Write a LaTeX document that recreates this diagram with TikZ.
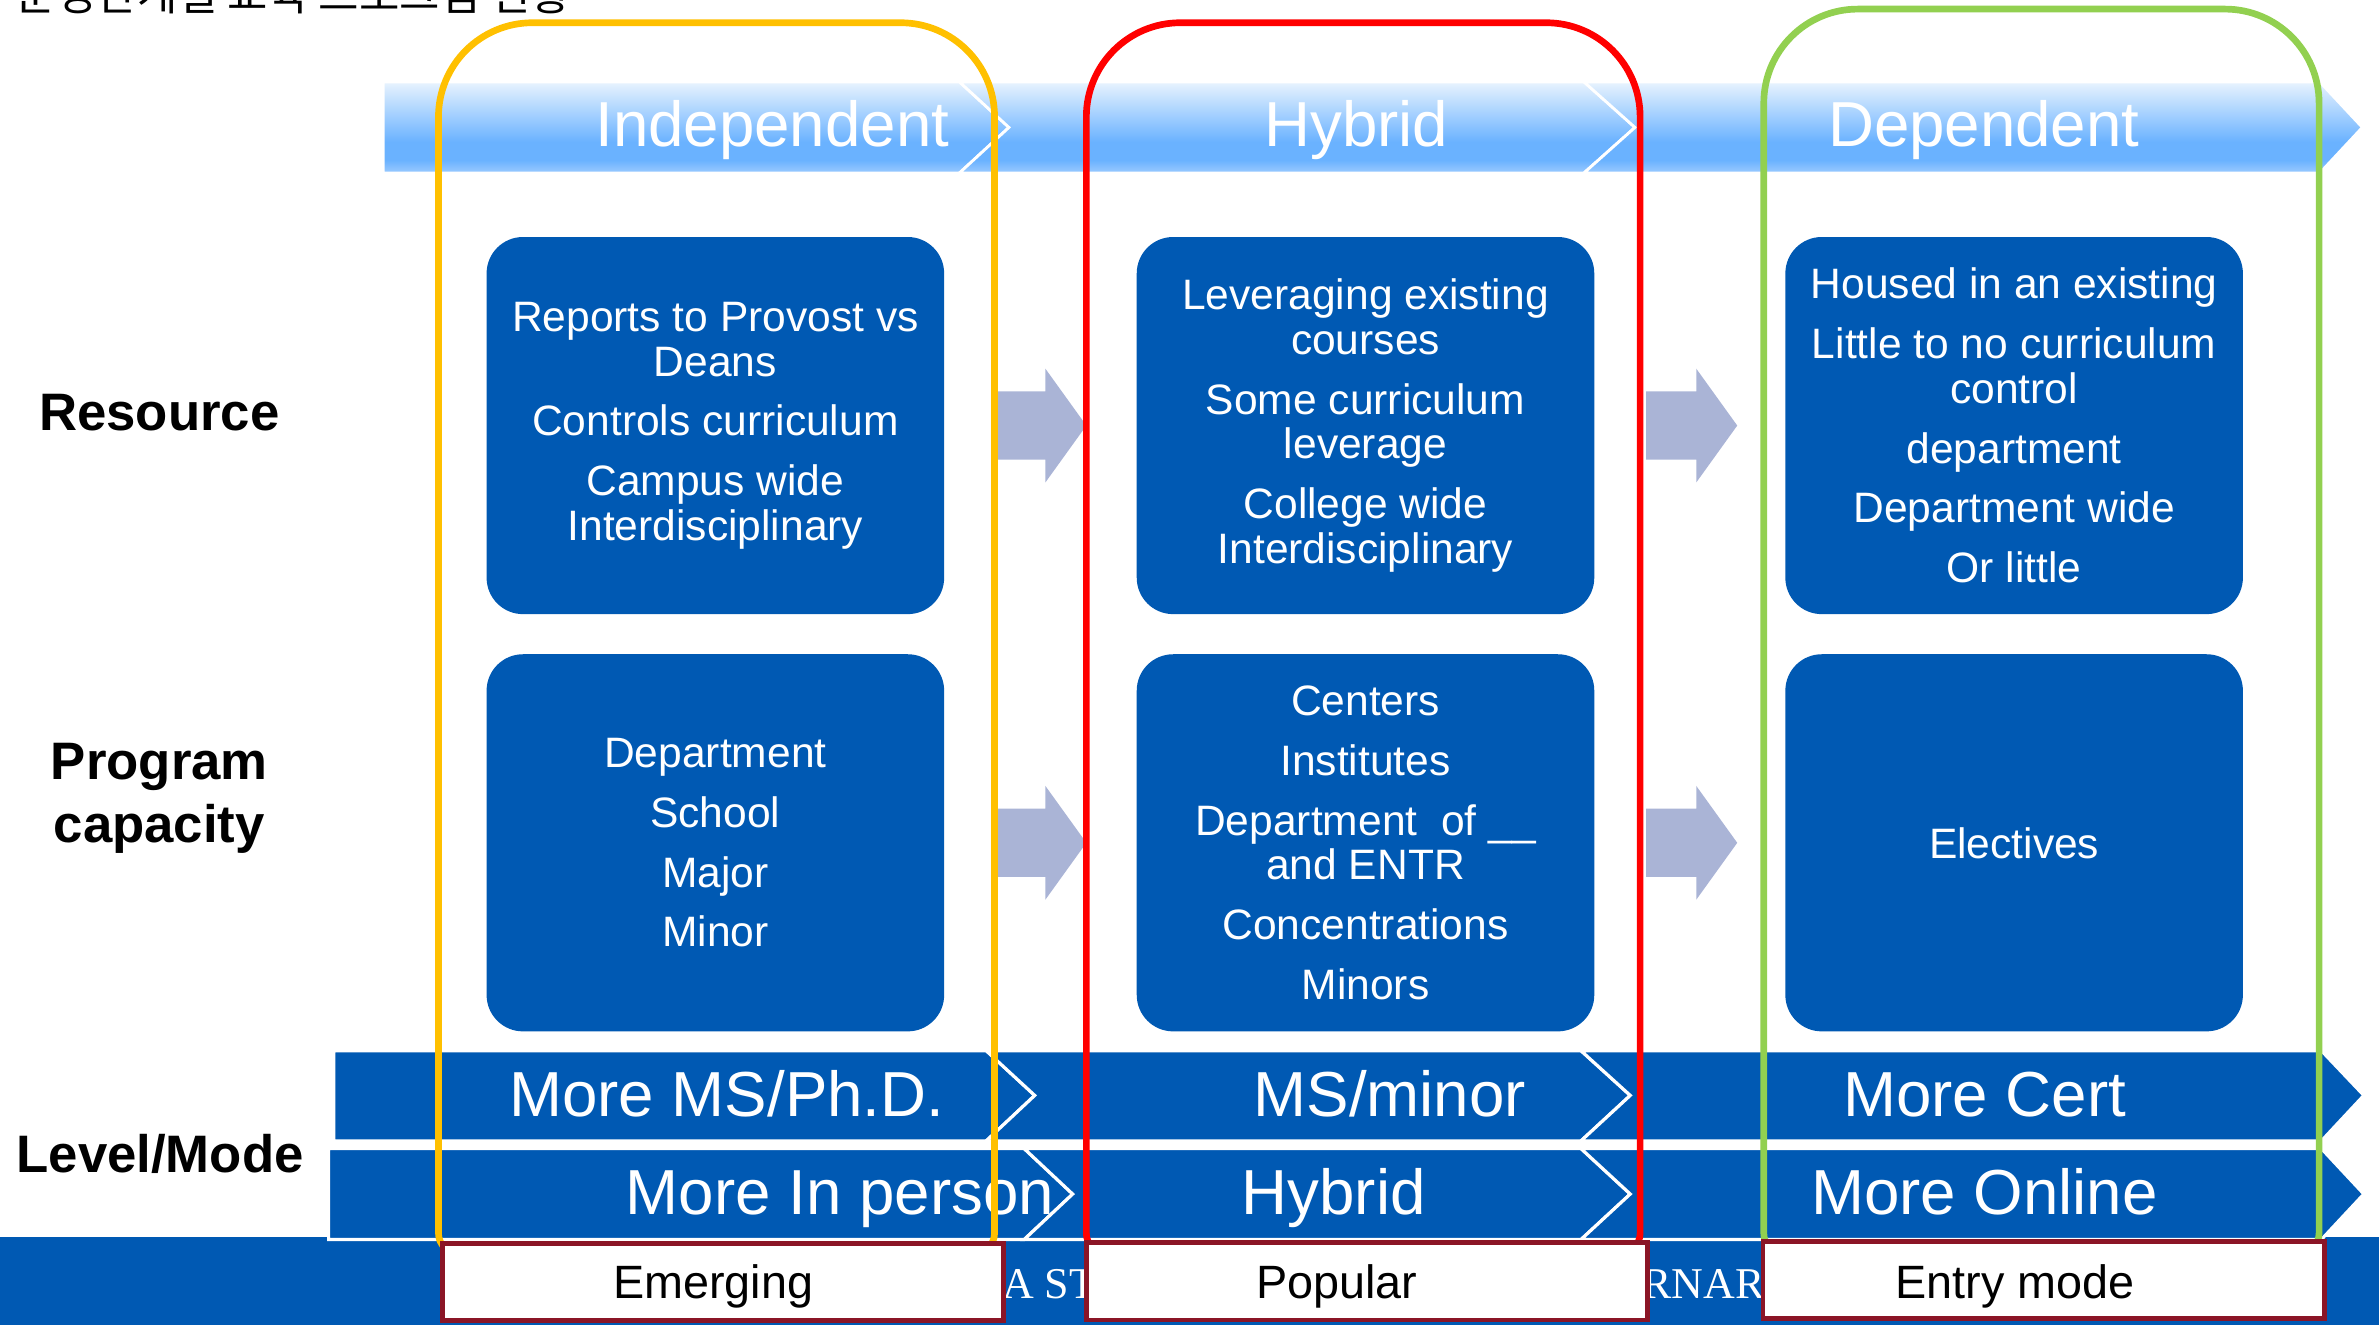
\documentclass[tikz,border=0pt]{standalone}
\usepackage{fontspec}
\setmainfont{Liberation Sans}
\newfontfamily\krfont{Noto Sans CJK KR}
\newfontfamily\capsfont{Liberation Serif}
\usetikzlibrary{positioning}

\definecolor{boxblue}{HTML}{0059B3}
\definecolor{arrowgray}{HTML}{AAB4D6}
\definecolor{lineyellow}{HTML}{FFC000}
\definecolor{linered}{HTML}{FF0000}
\definecolor{linegreen}{HTML}{92D050}
\definecolor{tagred}{HTML}{8B1526}
\definecolor{bantop}{HTML}{E8F3FE}
\definecolor{banmid}{HTML}{6AB2FF}
\definecolor{banbot}{HTML}{9CCBFF}

\pgfdeclareverticalshading{banner}{100bp}{color(0bp)=(banbot); color(25bp)=(banbot); color(32bp)=(banmid); color(42bp)=(banmid); color(75bp)=(bantop); color(100bp)=(bantop)}

\tikzset{
  box/.style={fill=boxblue, rounded corners=0.364cm, minimum width=4.574cm, minimum height=3.77cm,
    text=white, align=center, inner sep=0pt, font=\fontsize{12.1}{12.7}\selectfont},
  headtext/.style={text=white, anchor=base, font=\fontsize{18.1}{20}\selectfont},
  rowlabel/.style={align=center, font=\bfseries\fontsize{15}{17.9}\selectfont},
  chev/.style={fill=boxblue, draw=white, line width=0.9pt},
  bannerchev/.style={shading=banner, draw=white, line width=0.8pt},
  colframe/.style={line width=1.9pt},
  stagebox/.style={draw=tagred, line width=1.3pt, fill=white, minimum width=5.61cm, minimum height=0.77cm, inner sep=0pt},
  stagetext/.style={anchor=base, font=\fontsize{13.3}{15}\selectfont}
}

\begin{document}
\begin{tikzpicture}[x=0.015172cm, y=-0.015172cm]
  \useasboundingbox (0,0) rectangle (1568,873);
  \fill[white] (0,0) rectangle (1568,873);

  % Title (cut at the top)
  \node[anchor=base west, inner sep=0pt, font=\krfont\fontsize{12.5}{14}\selectfont] (title) at (10,7) {운영단계별 교육 프로그램 현황};

  % Top banner
  \path[bannerchev] (252.6,54) -- (632.4,54) -- (665,84) -- (632.4,114) -- (252.6,114) -- cycle;
  \path[bannerchev] (632.4,54) -- (1044,54) -- (1077.6,84) -- (1044,114) -- (632.4,114) -- (665,84) -- cycle;
  \path[bannerchev] (1044,54) -- (1529,54) -- (1557,84) -- (1529,114) -- (1044,114) -- (1077.6,84) -- cycle;
  \node[headtext] (indep) at (509,96.7)    {Independent};
  \node[headtext] (hyb)   at (894,96.7)    {Hybrid};
  \node[headtext] (dep)   at (1307.5,96.7) {Dependent};

  % Boxes (row 1: resource, row 2: program capacity)
  \node[box] (b11) at (471.5,280.5) {Reports to Provost vs\\Deans\\[4.3pt]Controls curriculum\\[4.3pt]Campus wide\\Interdisciplinary};
  \node[box] (b12) at (900,280.5)   {Leveraging existing\\courses\\[4.3pt]Some curriculum\\leverage\\[4.3pt]College wide\\Interdisciplinary};
  \node[box] (b13) at (1327.5,280.5){Housed in an existing\\[4.3pt]Little to no curriculum\\control\\[4.3pt]department\\[4.3pt]Department wide\\[4.3pt]Or little};
  \node[box] (b21) at (471.5,555.5) {Department\\[4.3pt]School\\[4.3pt]Major\\[4.3pt]Minor};
  \node[box] (b22) at (900,555.5)   {Centers\\[4.3pt]Institutes\\[4.3pt]Department\ \ of \_\_\\and ENTR\\[4.3pt]Concentrations\\[4.3pt]Minors};
  \node[box] (b23) at (1327.5,555.5){Electives};

  % Block arrows between columns
  \foreach \ax/\ay in {656/280.5, 1085/280.5, 656/555.5, 1085/555.5}
    \fill[arrowgray] (\ax,\ay-22.5) -- (\ax+33,\ay-22.5) -- (\ax+33,\ay-37.5) -- (\ax+60,\ay)
      -- (\ax+33,\ay+37.5) -- (\ax+33,\ay+22.5) -- (\ax,\ay+22.5) -- cycle;

  % Bottom strip
  \fill[boxblue] (0,815) rectangle (1568,873);
  \node[anchor=base east, text=white, inner sep=0pt, font=\capsfont\fontsize{12.5}{14}\selectfont] (strip1) at (723,855.6) {A ST};
  \node[anchor=base west, text=white, inner sep=0pt, font=\capsfont\fontsize{12.5}{14}\selectfont] (strip2) at (1082,855.6) {RNAR};

  % Level / mode chevrons
  \path[chev] (220,692.5) -- (650,692.5) -- (682,722) -- (650,752) -- (220,752) -- cycle;
  \path[chev] (650,692.5) -- (1042,692.5) -- (1074.5,722) -- (1042,752) -- (650,752) -- (682,722) -- cycle;
  \path[chev] (1042,692.5) -- (1530,692.5) -- (1558,722) -- (1530,752) -- (1042,752) -- (1074.5,722) -- cycle;
  \path[chev] (216.6,757) -- (675,757) -- (707,787) -- (675,817) -- (216.6,817) -- cycle;
  \path[chev] (675,757) -- (1042,757) -- (1074.5,787) -- (1042,817) -- (675,817) -- (707,787) -- cycle;
  \path[chev] (1042,757) -- (1530,757) -- (1558,787) -- (1530,817) -- (1042,817) -- (1074.5,787) -- cycle;
  \node[headtext] (lv1) at (479,735.6)   {More MS/Ph.D.};
  \node[headtext] (lv2) at (916,735.6)   {MS/minor};
  \node[headtext] (lv3) at (1308,735.6)  {More Cert};
  \node[headtext] (md1) at (553.6,800.8) {More In person};
  \node[headtext] (md2) at (879,800.8)   {Hybrid};
  \node[headtext] (md3) at (1308,800.8)  {More Online};

  % Column frames
  \draw[colframe, lineyellow] (289,400) [rounded corners=0.94cm] -- (289,15) -- (655.5,15) -- (655.5,400)
    [rounded corners=0.2cm] -- (655.5,826) -- (289,826) -- cycle;
  \draw[colframe, linered] (716,400) [rounded corners=0.94cm] -- (716,15) -- (1081,15) -- (1081,400)
    [rounded corners=0.2cm] -- (1081,826) -- (716,826) -- cycle;
  \draw[colframe, linegreen] (1162.5,400) [rounded corners=0.94cm] -- (1162.5,6) -- (1528.5,6) -- (1528.5,400)
    [rounded corners=0.2cm] -- (1528.5,826) -- (1162.5,826) -- cycle;

  % Stage tags
  \node[stagebox] (t1) at (476.5,845) {};
  \node[stagebox] (t2) at (901,844.5) {};
  \node[stagebox] (t3) at (1347,843.5) {};
  \node[stagetext] at (470,856)  {Emerging};
  \node[stagetext] at (881,856)  {Popular};
  \node[stagetext] at (1328,856) {Entry mode};

  % Row labels
  \node[rowlabel, anchor=base] (res) at (105,283.6)   {Resource};
  \node[rowlabel]              (cap) at (105,526)     {Program\\capacity};
  \node[rowlabel, anchor=base] (lvl) at (105.5,772.6) {Level/Mode};
\end{tikzpicture}
\end{document}
